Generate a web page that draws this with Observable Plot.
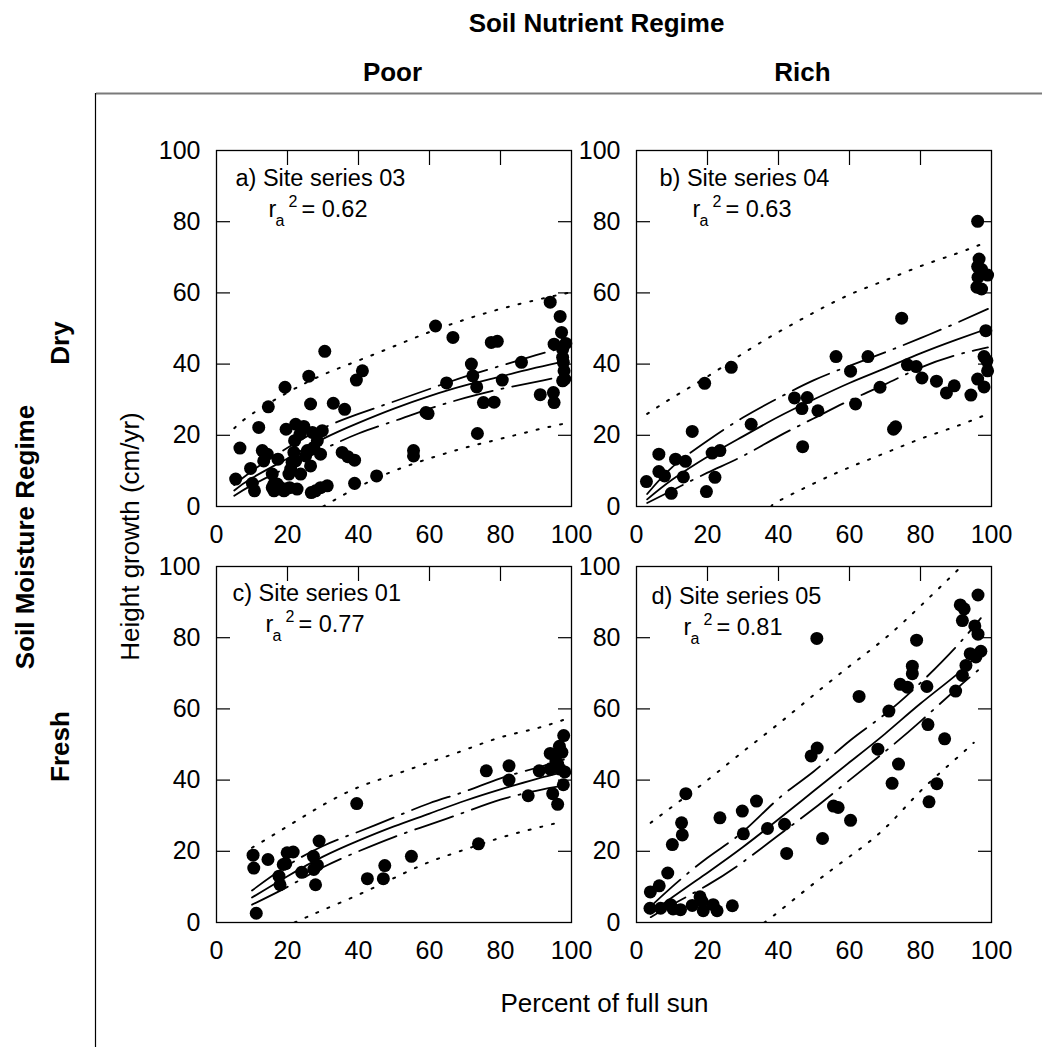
<!DOCTYPE html>
<html><head><meta charset="utf-8">
<script src="https://cdn.jsdelivr.net/npm/d3@7"></script>
<script src="https://cdn.jsdelivr.net/npm/@observablehq/plot@0.6"></script>
<style>
body{margin:0;background:white;}
#chart{position:relative;width:1042px;height:1047px;font-family:'Liberation Sans',Arial,sans-serif;}
#chart > svg{position:absolute;}
</style></head><body><div id="chart"></div>
<script>
// ---------- data ----------
const tickValues = [0, 20, 40, 60, 80, 100];
const innerTicks = [20, 40, 60, 80];

const labels = ["a) Site series 03", "b) Site series 04", "c) Site series 01", "d) Site series 05"];
const r2Values = ["= 0.62", "= 0.63", "= 0.77", "= 0.81"];

const pointsA = [[5.4,7.7],[6.6,16.4],[9.6,10.7],[10.7,4.4],[10.1,6.5],[11.9,22.2],[12.9,15.7],[14.3,14.7],[14.6,28],[13.3,12.8],[15.7,9.1],[16.2,6.3],[16.2,4.4],[17.3,13.3],[18,5.3],[19,4.4],[19.3,33.5],[19.6,21.7],[20.4,9.1],[20.6,5.3],[21.3,12.4],[21.8,15.2],[22,18.5],[22.3,23.1],[22.7,4.9],[23.5,20.3],[24.6,22.5],[25.1,14.2],[26,36.6],[26.5,28.8],[26.5,11.4],[26.7,3.9],[27,20.8],[27.4,16.6],[27.9,4.4],[28.4,18.5],[29.3,14.7],[29.8,21.3],[29.3,5.3],[30.5,43.6],[31.2,5.8],[32.9,29],[35.4,15.2],[36.1,27.3],[37,14],[38.9,13],[38.9,6.5],[39.4,35.5],[41.1,38.1],[45.1,8.6],[55.5,15.7],[55.5,14.2],[59,26.4],[59.6,26.1],[61.7,50.7],[64.8,34.7],[66.6,47.5],[71.8,40],[72.2,36.7],[73.3,33.6],[73.5,20.5],[75.2,29.2],[77.4,46.1],[79.1,46.4],[78.2,29.3],[80.5,35.5],[85.9,40.5],[91.2,31.4],[94,57.4],[94.9,32],[95.1,29.2],[95.1,45.6],[96.8,53.4],[97.2,48.9],[98.4,45.8],[97.5,44.2],[97.5,41.9],[97.7,40.5],[97.9,38.1],[98.1,35.8],[97.5,35.3],[20.9,10.5],[22.3,12.8],[23.7,9.1],[25.6,15.7],[19.5,4.9],[17.1,6.3],[15.7,5.3]];
const fitA   = [[5,4.5],[10,8],[20,13.5],[30,19],[40,23.5],[50,27.5],[60,31],[70,34],[80,36.5],[90,39],[99,41]];
const ciUpA  = [[5,6],[10,10],[20,16.5],[30,22],[40,26],[50,29.5],[60,33],[70,36.5],[80,39.5],[90,42.5],[99,45]];
const ciLoA  = [[5,3],[10,6],[20,11],[30,16],[40,20.5],[50,24],[60,27.5],[70,30.5],[80,33],[90,35],[99,37]];
const piUpA  = [[5,22],[10,26],[20,32],[30,37],[40,41],[50,45],[60,49],[70,52.5],[80,55.5],[90,58],[99,60]];
const piLoA  = [[30,0],[40,5.5],[50,10],[60,13.5],[70,16.5],[80,19],[90,21.5],[99,23.5]];

const pointsB = [[2.8,7],[6.3,14.7],[6.3,9.8],[7.9,8.6],[9.8,3.7],[11,13.3],[13.2,8.3],[13.8,12.7],[15.7,21.1],[19.2,34.6],[19.7,4.2],[21.3,15],[22.1,8.2],[23.5,15.7],[26.7,39.1],[32.3,23.1],[44.5,30.5],[46.6,27.5],[46.8,16.8],[48.1,30.6],[51.1,26.9],[56.2,42.1],[60.3,38],[61.7,28.8],[65.2,42.1],[68.6,33.5],[72.4,21.7],[73,22.4],[74.7,52.9],[76.3,39.8],[78.8,39.3],[80.4,36.1],[84.5,35.2],[87.3,31.9],[89.5,33.9],[94.2,31.3],[96.1,80.1],[96.5,69.5],[96.1,67.4],[97.2,66.6],[96.2,64.4],[98.9,65],[95.9,61.6],[97.2,61.1],[98.4,49.4],[97.9,42.1],[98.7,41],[98.9,38.1],[96.1,35.8],[97.9,33.6]];
const fitB   = [[3,2],[10,7.5],[20,14],[30,19.7],[40,25.2],[50,30.1],[60,34.7],[70,38.8],[80,43],[90,46.8],[99,50]];
const ciUpB  = [[3,3.5],[10,11],[20,18.5],[30,25],[40,30.5],[50,35.5],[60,39.5],[70,43.3],[80,47.3],[90,51.5],[99,55.5]];
const ciLoB  = [[3,1],[10,4.5],[20,9.5],[30,14.2],[40,19.7],[50,24.8],[60,29.8],[70,34.3],[80,39],[90,42.5],[99,44.7]];
const piUpB  = [[3,26],[10,30.5],[20,36.5],[30,43],[40,49],[50,54.5],[60,59.5],[70,63.5],[80,67.5],[90,71],[98,74]];
const piLoB  = [[38,0],[40,1.5],[50,6.5],[60,11],[70,15],[80,19],[90,22.5],[99,26]];

const pointsC = [[10.3,18.9],[10.5,15.3],[11.2,2.6],[14.5,17.7],[17.6,13],[17.9,10.6],[18.8,16.3],[19.9,19.6],[21.6,19.8],[19.5,16.5],[24,14.1],[27.3,18.6],[27.4,14.9],[28.4,16.1],[27.9,10.6],[28.9,22.9],[39.5,33.4],[42.5,12.3],[47,12.3],[47.4,16],[54.9,18.6],[73.8,22.1],[76,42.6],[82.4,44],[82.4,40],[87.8,35.6],[90.9,42.6],[94,47.5],[94.7,36.2],[96.1,33.2],[94,43.1],[95.6,45.4],[96.6,49.5],[97.3,47.8],[97.8,52.5],[96.8,43.1],[98.1,42.3],[97.7,38.7],[96.1,44.5]];
const fitC   = [[10,7],[20,13],[30,18.5],[40,23],[50,27],[60,30.6],[70,34.2],[80,37.4],[90,40.3],[98,42.3]];
const ciUpC  = [[10,9],[20,16],[30,21.5],[40,25.5],[50,29.5],[60,33.5],[70,36.8],[80,40.5],[90,43.4],[98,45.8]];
const ciLoC  = [[10,5],[20,10],[30,15.5],[40,20],[50,24],[60,27.5],[70,31],[80,34.5],[90,37],[98,38.6]];
const piUpC  = [[10,21],[20,27],[30,33],[40,38],[50,41.5],[60,45],[70,48.5],[80,52],[90,54.5],[98,57]];
const piLoC  = [[22,0],[30,3.5],[40,7.8],[50,12.5],[60,17],[70,20.5],[80,23.8],[90,26.5],[96,28]];

const pointsD = [[3.8,4],[3.9,8.6],[6.4,10.3],[6.8,4],[8.8,13.9],[9.6,5],[10.1,21.9],[10.3,3.8],[12.4,3.6],[12.7,28],[12.9,24.6],[13.9,36.2],[15.7,4.8],[17.9,7.2],[18.5,5.9],[18.8,3.3],[21.6,5],[22.7,3.3],[23.5,29.4],[27,4.7],[29.8,31.3],[30.1,24.9],[33.8,34.1],[36.9,26.4],[41.7,27.6],[42.3,19.4],[49.2,46.8],[50.9,49],[50.8,79.8],[52.4,23.6],[55.5,32.7],[56.8,32.3],[60.3,28.7],[62.7,63.5],[68,48.7],[71.1,59.4],[72,39.1],[73.8,44.5],[74.3,66.9],[76.3,66.1],[77.7,72],[77.7,69.9],[78.9,79.3],[81.8,66.3],[82.1,55.6],[82.4,33.9],[84.6,39],[86.8,51.6],[89.9,65],[91.2,89.2],[92.3,88.1],[91.8,84.8],[91.8,69.4],[92.8,72.2],[94,75.5],[95.6,74.6],[95.3,83.3],[96.2,92],[96.2,81],[97,76.2]];
const fitD   = [[4,2.5],[10,7],[20,14],[30,21.2],[40,29],[50,37],[60,45],[70,53],[80,61.5],[90,69.5],[97,76]];
const ciUpD  = [[4,4.5],[10,10],[20,18.2],[30,25.5],[40,34.8],[50,42.5],[60,51],[70,58.5],[80,67.3],[90,77.4],[97,85.5]];
const ciLoD  = [[4,1.5],[10,5],[20,10.5],[30,17],[40,24.5],[50,32],[60,40],[70,48],[80,56.5],[90,65.5],[97,71.5]];
const piUpD  = [[4,28],[10,32.5],[20,40],[30,48],[40,55.8],[50,64],[60,72],[70,79.8],[80,88.9],[91,99.5]];
const piLoD  = [[36,0],[40,3],[50,11],[60,18.5],[70,26.5],[80,36.9],[90,46],[95,50.5]];

// ---------- layout ----------
const FONT = "'Liberation Sans', Arial, Helvetica, sans-serif";
const W = 435, H = 411, ML = 70, MR = 10, MT = 10, MB = 45;

const panels = [
  {left: 146, top: 140, pts: pointsA, fit: fitA, ciUp: ciUpA, ciLo: ciLoA, piUp: piUpA, piLo: piLoA, lab: labels[0], r2: r2Values[0], lx: 19, ly: 35, rx: 52, ry: 66},
  {left: 566, top: 140, pts: pointsB, fit: fitB, ciUp: ciUpB, ciLo: ciLoB, piUp: piUpB, piLo: piLoB, lab: labels[1], r2: r2Values[1], lx: 23, ly: 35, rx: 56, ry: 66},
  {left: 146, top: 556, pts: pointsC, fit: fitC, ciUp: ciUpC, ciLo: ciLoC, piUp: piUpC, piLo: piLoC, lab: labels[2], r2: r2Values[2], lx: 16, ly: 34, rx: 49, ry: 65},
  {left: 566, top: 556, pts: pointsD, fit: fitD, ciUp: ciUpD, ciLo: ciLoD, piUp: piUpD, piLo: piLoD, lab: labels[3], r2: r2Values[3], lx: 15, ly: 37, rx: 47, ry: 68}
];

const chart = document.getElementById("chart");

// headers & frame lines
const bg = d3.create("svg").attr("width", 1042).attr("height", 1047)
  .style("left", "0px").style("top", "0px").style("font-family", FONT);
bg.append("line").attr("x1", 96).attr("x2", 1042).attr("y1", 93.5).attr("y2", 93.5)
  .attr("stroke", "#7a7a7a").attr("stroke-width", 2);
bg.append("line").attr("x1", 95.5).attr("x2", 95.5).attr("y1", 93).attr("y2", 1047)
  .attr("stroke", "black").attr("stroke-width", 1.2);
const bold = (x, y, t, rot) => {
  const g = bg.append("text").attr("font-weight", "bold").attr("font-size", 26)
    .attr("text-anchor", "middle").text(t);
  if (rot) g.attr("transform", `translate(${x},${y}) rotate(-90)`).attr("dy", "0.35em");
  else g.attr("x", x).attr("y", y);
};
bold(596.5, 31.5, "Soil Nutrient Regime");
bold(392.5, 80.5, "Poor");
bold(802.5, 80.5, "Rich");
bold(24.5, 537, "Soil Moisture Regime", true);
bold(59.5, 343, "Dry", true);
bold(59.5, 746.5, "Fresh", true);
bg.append("text").attr("font-size", 26).attr("text-anchor", "middle")
  .attr("transform", "translate(129.5,536.5) rotate(-90)").attr("dy", "0.35em")
  .text("Height growth (cm/yr)");
bg.append("text").attr("font-size", 26).attr("text-anchor", "middle")
  .attr("x", 604.5).attr("y", 1011.5).text("Percent of full sun");
chart.appendChild(bg.node());

const X = d => d[0], Y = d => d[1];
function curve(data, extra) {
  return Plot.line(data, {x: X, y: Y, curve: "natural", stroke: "black", strokeWidth: 1.8, clip: true, ...extra});
}
const noText = () => "";

for (const p of panels) {
  const svg = Plot.plot({
    width: W, height: H, marginLeft: ML, marginRight: MR, marginTop: MT, marginBottom: MB,
    x: {domain: [0, 100], axis: null},
    y: {domain: [0, 100], axis: null},
    style: {background: "none", overflow: "visible", fontFamily: FONT, color: "black"},
    marks: [
      curve(p.piUp, {strokeWidth: 2, strokeDasharray: "2,10"}),
      curve(p.piLo, {strokeWidth: 2, strokeDasharray: "2,10"}),
      curve(p.ciUp, {strokeDasharray: "40,9,2,9"}),
      curve(p.ciLo, {strokeDasharray: "40,9,2,9"}),
      curve(p.fit),
      Plot.dot(p.pts, {x: X, y: Y, r: 6.5, fill: "black"}),
      Plot.frame({stroke: "black", strokeWidth: 1.3}),
      Plot.axisY(innerTicks, {anchor: "left", tickSize: 14, dx: 14, strokeWidth: 1.2, fill: "none", tickFormat: noText, label: null}),
      Plot.axisY(innerTicks, {anchor: "right", tickSize: 14, dx: -14, strokeWidth: 1.2, fill: "none", tickFormat: noText, label: null}),
      Plot.axisX(innerTicks, {anchor: "top", tickSize: 14, dy: 14, strokeWidth: 1.2, fill: "none", tickFormat: noText, label: null}),
      Plot.axisY(tickValues, {anchor: "left", tickSize: 0, tickPadding: 16, fontSize: 25, label: null}),
      Plot.axisX(tickValues, {anchor: "bottom", tickSize: 0, tickPadding: 19, fontSize: 25, label: null}),
      Plot.text([p.lab], {text: d => d, frameAnchor: "top-left", dx: p.lx, dy: p.ly, textAnchor: "start", lineAnchor: "bottom", fontSize: 23.5}),
      Plot.text(["r"], {text: d => d, frameAnchor: "top-left", dx: p.rx, dy: p.ry, textAnchor: "start", lineAnchor: "bottom", fontSize: 23.5}),
      Plot.text(["a"], {text: d => d, frameAnchor: "top-left", dx: p.rx + 7, dy: p.ry + 9, textAnchor: "start", lineAnchor: "bottom", fontSize: 16}),
      Plot.text(["2"], {text: d => d, frameAnchor: "top-left", dx: p.rx + 20, dy: p.ry - 10, textAnchor: "start", lineAnchor: "bottom", fontSize: 16}),
      Plot.text([p.r2], {text: d => d, frameAnchor: "top-left", dx: p.rx + 33, dy: p.ry, textAnchor: "start", lineAnchor: "bottom", fontSize: 23.5})
    ]
  });
  svg.style.position = "absolute";
  svg.style.left = p.left + "px";
  svg.style.top = p.top + "px";
  chart.appendChild(svg);
}
</script></body></html>
